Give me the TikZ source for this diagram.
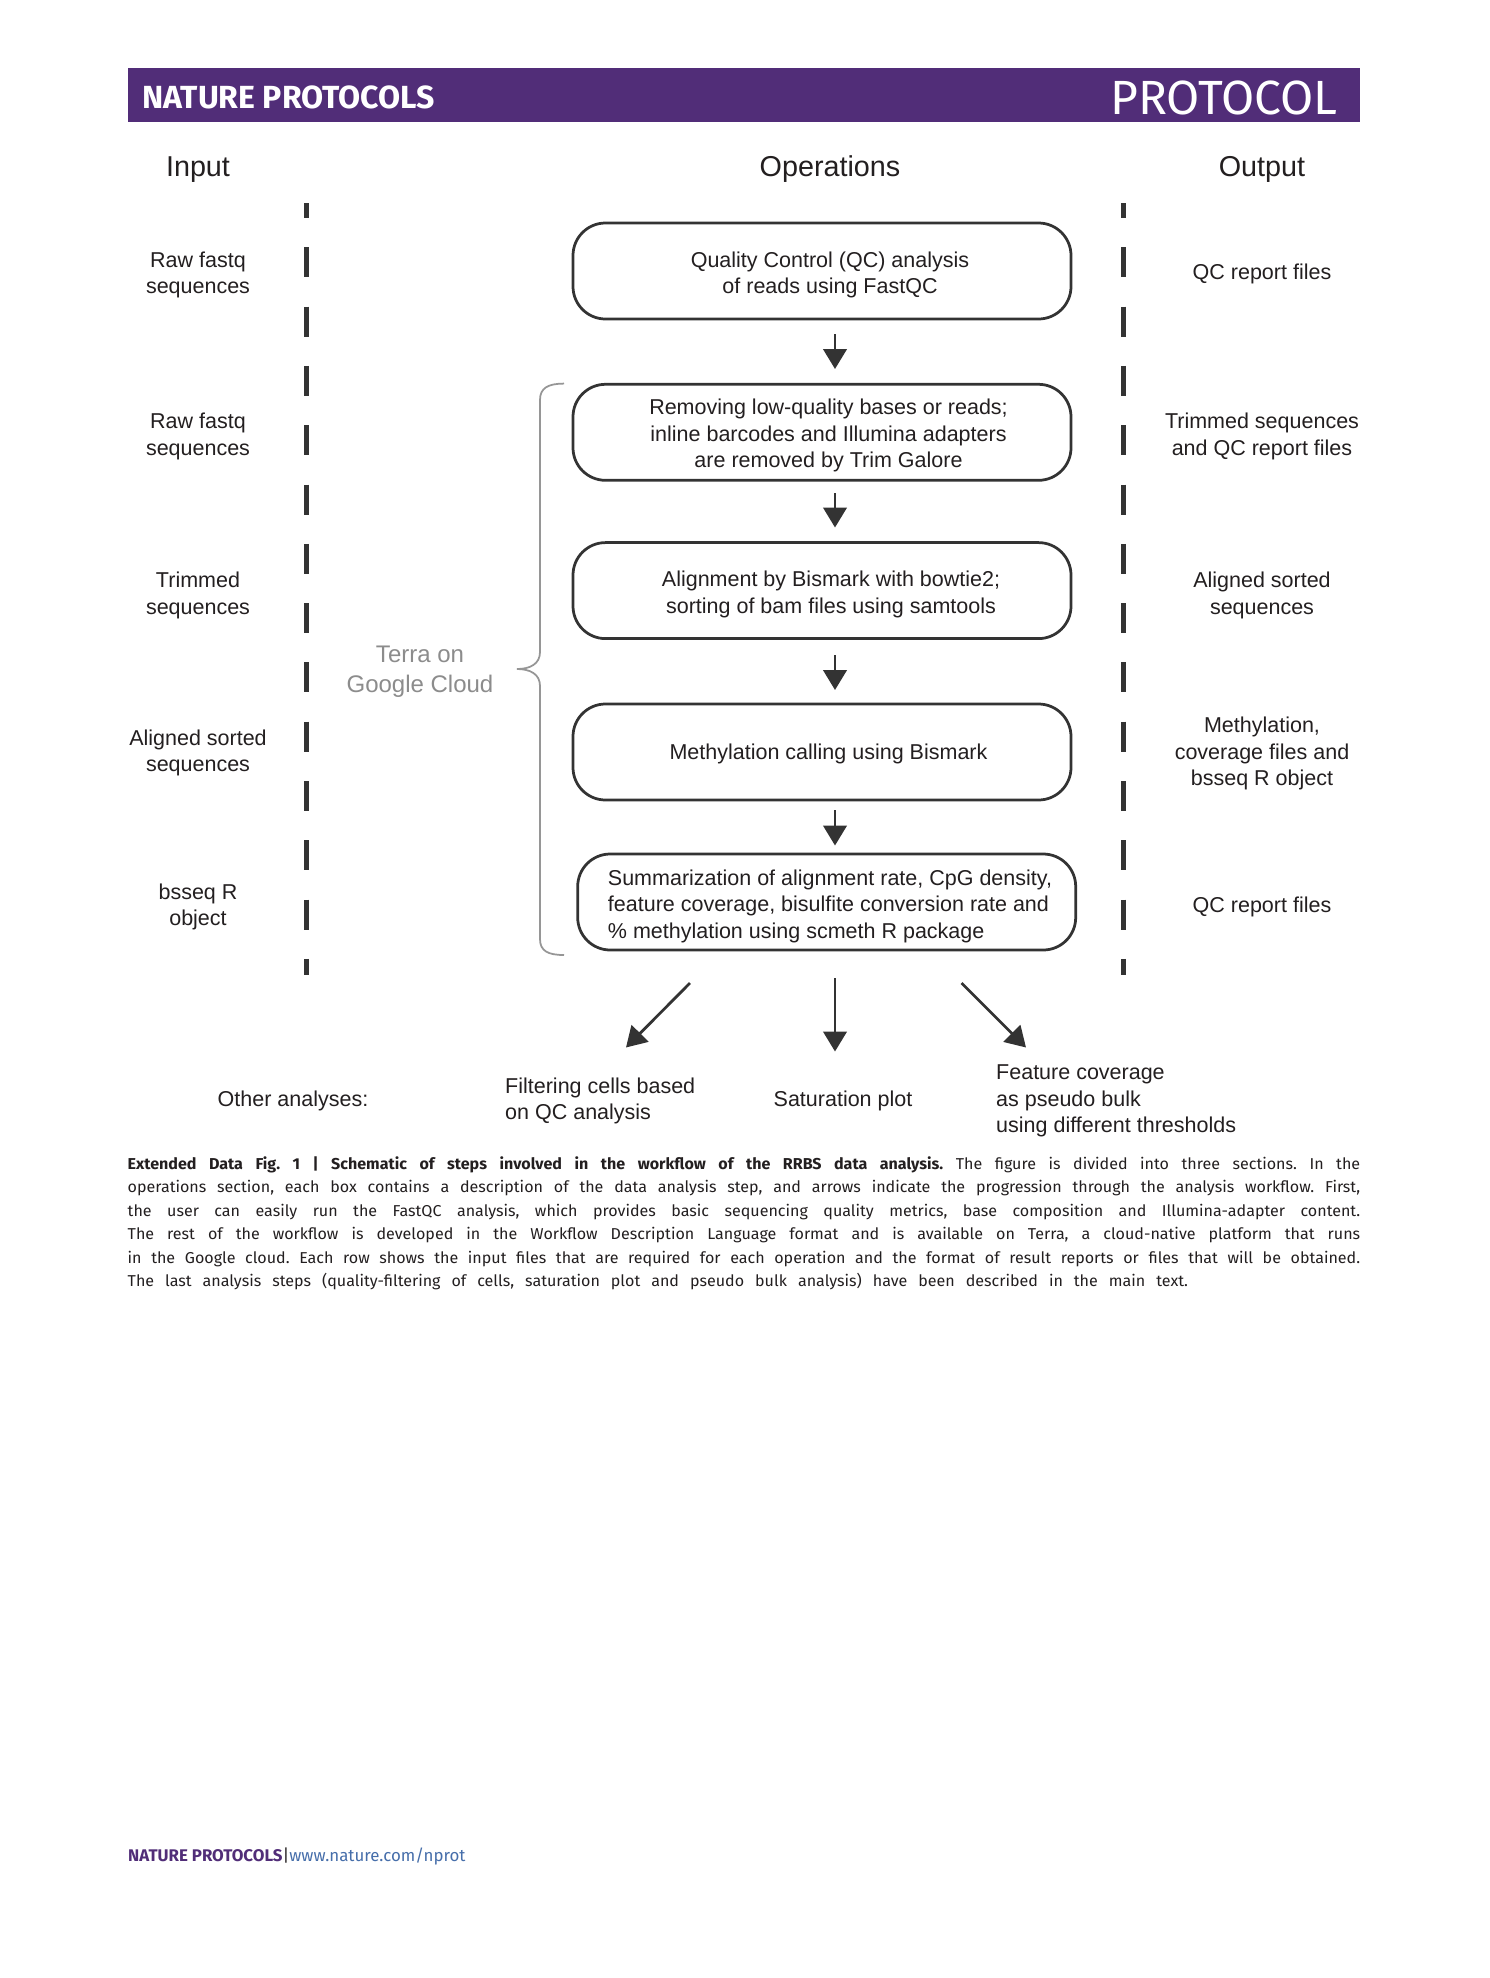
\documentclass[tikz,border=0pt]{standalone}
\usepackage{fontspec}
\setmainfont{Liberation Sans}
\newfontfamily\capfont{Fira Sans}
\newfontfamily\capwide[FakeStretch=1.02]{Fira Sans}
\usetikzlibrary{arrows.meta}
\definecolor{npurple}{RGB}{81,45,120}
\definecolor{nblue}{RGB}{70,110,170}
\definecolor{ink}{RGB}{35,31,32}
\definecolor{dashgray}{RGB}{51,51,51}
\definecolor{terragray}{RGB}{140,140,140}
\definecolor{bracegray}{RGB}{150,150,150}
\begin{document}
\begin{tikzpicture}[x=1pt,y=-1pt,
  opbox/.style={draw=dashgray, line width=2.75pt, rounded corners=32.5pt,
    minimum width=498pt, minimum height=96pt, inner sep=0pt},
  io/.style={align=center, inner sep=0pt, text=ink, font=\fontsize{21.5}{26.5}\selectfont},
  hdr/.style={anchor=base, inner sep=0pt, text=ink, font=\fontsize{28.75}{32.5}\selectfont},
  arr/.style={draw=dashgray, line width=2.75pt, -{Triangle[width=23.5pt,length=20pt]}},
  dashline/.style={draw=dashgray, line width=5pt, dash pattern=on 30pt off 29.3pt, dash phase=15pt},
]
\useasboundingbox (0,0) rectangle (1489,1978);
\fill[white] (0,0) rectangle (1489,1978);
% header bar
\fill[npurple] (127.5,68) rectangle (1360,122);
\node[anchor=west, inner sep=0pt, text=white, font=\capfont\bfseries\fontsize{32}{35}\selectfont] (npt) at (142,97) {NATURE PROTOCOLS};
\node[anchor=east, inner sep=0pt, text=white, font=\capfont\fontsize{48}{52}\selectfont] (prot) at (1338,97.5) {PROTOCOL};
% column headers
\node[hdr] (hin) at (198,176.3) {Input};
\node[hdr] (hop) at (830,176.3) {Operations};
\node[hdr] (hout) at (1262,176.3) {Output};
% dashed separators
\coordinate (dl1) at (306.8,203); \coordinate (dl2) at (306.8,975);
\coordinate (dr1) at (1123,203); \coordinate (dr2) at (1123,975);
\draw[dashline] (dl1) -- (dl2);
\draw[dashline] (dr1) -- (dr2);
% boxes
\node[opbox] (b1) at (822,271) {};
\node[opbox] (b2) at (822,432.3) {};
\node[opbox] (b3) at (822,590.6) {};
\node[opbox] (b4) at (822,752) {};
\node[opbox] (b5) at (826.7,902) {};
\node[io] (t1) at (830,275) {Quality Control (QC) analysis\\of reads using FastQC};
\node[io] (t2) at (828.5,435.5) {Removing low-quality bases or reads;\\inline barcodes and Illumina adapters\\are removed by Trim Galore};
\node[io] (t3) at (831,594.6) {Alignment by Bismark with bowtie2;\\sorting of bam files using samtools};
\node[io] (t4) at (828.5,754) {Methylation calling using Bismark};
\node[io, align=left] (t5) at (830,906) {Summarization of alignment rate, CpG density,\\feature coverage, bisulfite conversion rate and\\\% methylation using scmeth R package};
% arrows between boxes
\coordinate (a1s) at (835,334); \coordinate (a1e) at (835,369);
\coordinate (a2s) at (835,493); \coordinate (a2e) at (835,527.5);
\coordinate (a3s) at (835,655); \coordinate (a3e) at (835,690);
\coordinate (a4s) at (835,810); \coordinate (a4e) at (835,845.5);
\draw[arr] (a1s) -- (a1e);
\draw[arr] (a2s) -- (a2e);
\draw[arr] (a3s) -- (a3e);
\draw[arr] (a4s) -- (a4e);
% inputs
\node[io] (in1) at (198,275) {Raw fastq\\sequences};
\node[io] (in2) at (198,436.5) {Raw fastq\\sequences};
\node[io] (in3) at (198,595.5) {Trimmed\\sequences};
\node[io] (in4) at (198,753) {Aligned sorted\\sequences};
\node[io] (in5) at (198,907) {bsseq R\\object};
% outputs
\node[io] (out1) at (1262,274) {QC report files};
\node[io] (out2) at (1262,436.5) {Trimmed sequences\\and QC report files};
\node[io] (out3) at (1262,595.5) {Aligned sorted\\sequences};
\node[io] (out4) at (1262,753.5) {Methylation,\\coverage files and\\bsseq R object};
\node[io] (out5) at (1262,906.6) {QC report files};
% brace and Terra
\draw[bracegray, line width=1.75pt] (564,383.6) .. controls (548,383.6) and (540,388) .. (540,400) -- (540,652) .. controls (540,664) and (530,669) .. (517,669) .. controls (530,669) and (540,674) .. (540,686) -- (540,939) .. controls (540,951) and (548,955) .. (564,955);
\node[align=center, inner sep=0pt, text=terragray, font=\fontsize{24}{30}\selectfont] (terra) at (420,672) {Terra on\\Google Cloud};
% other analyses
\node[io] (other) at (293,1101) {Other analyses:};
\node[io, align=left, anchor=west] (filt) at (505,1101) {Filtering cells based\\on QC analysis};
\node[io] (sat) at (843,1101) {Saturation plot};
\node[io, align=left, anchor=west] (feat) at (996,1101) {Feature coverage\\as pseudo bulk\\using different thresholds};
\coordinate (l1) at (690,983); \coordinate (l2) at (626,1047.5);
\coordinate (c1) at (835,978); \coordinate (c2) at (835,1051.5);
\coordinate (r1) at (961.5,983); \coordinate (r2) at (1026,1047.5);
\draw[arr] (l1) -- (l2);
\draw[arr] (c1) -- (c2);
\draw[arr] (r1) -- (r2);
% caption
\node[anchor=north west, inner sep=0pt, text width=1232.5pt, align=justify, text=ink,
  font=\capwide\frenchspacing\fontsize{15.75}{23.55}\selectfont] (cap) at (127.5,1156.2) {%
\spaceskip=11pt plus 5pt minus 2.8pt\relax
{\bfseries Extended Data Fig. 1 | Schematic of steps involved in the workflow of the RRBS data analysis.} The figure is divided into three sections. In the\linebreak
operations section, each box contains a description of the data analysis step, and arrows indicate the progression through the analysis workflow. First,\linebreak
the user can easily run the FastQC analysis, which provides basic sequencing quality metrics, base composition and Illumina-adapter content.\linebreak
The rest of the workflow is developed in the Workflow Description Language format and is available on Terra, a cloud-native platform that runs\linebreak
in the Google cloud. Each row shows the input files that are required for each operation and the format of result reports or files that will be obtained.\linebreak
The last analysis steps (quality-filtering of cells, saturation plot and pseudo bulk analysis) have been described in the main text.};
% footer
\node[anchor=base west, inner sep=0pt, font=\capfont\fontsize{16.875}{18.75}\selectfont] (foot) at (128,1861.7) {\textcolor{npurple}{\bfseries NATURE PROTOCOLS}\textcolor{ink}{|}\textcolor{nblue}{www.nature.com/nprot}};
\end{tikzpicture}
\end{document}
